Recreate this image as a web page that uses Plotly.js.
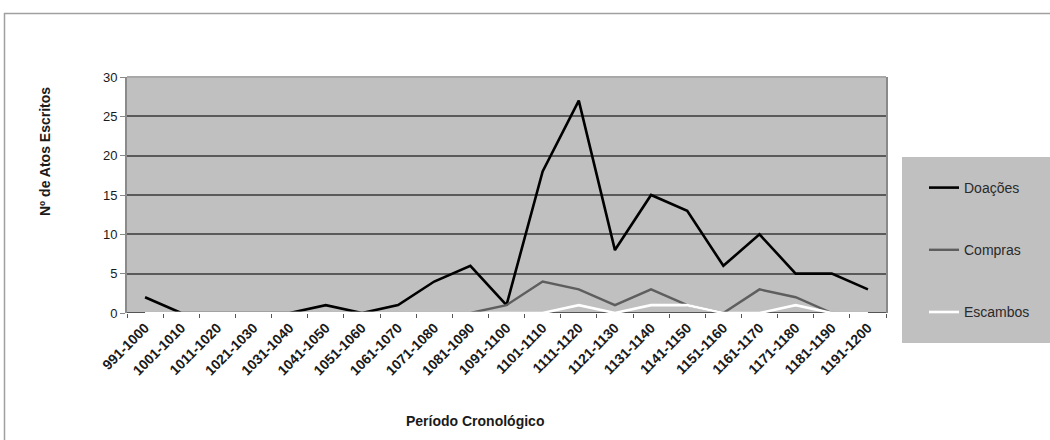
<!DOCTYPE html>
<html>
<head>
<meta charset="utf-8">
<script src="https://cdn.plot.ly/plotly-3.0.1.min.js"></script>
<style>html,body{margin:0;padding:0;background:#fff;}#chart{width:1050px;height:440px;}</style>
</head>
<body>
<div id="chart"></div>
<script>
const periods = ["991-1000","1001-1010","1011-1020","1021-1030","1031-1040","1041-1050","1051-1060","1061-1070","1071-1080","1081-1090","1091-1100","1101-1110","1111-1120","1121-1130","1131-1140","1141-1150","1151-1160","1161-1170","1171-1180","1181-1190","1191-1200"];
const doacoes  = [2,0,0,0,0,1,0,1,4,6,1,18,27,8,15,13,6,10,5,5,3];
const compras  = [0,0,0,0,0,0,0,0,0,0,1,4,3,1,3,1,0,3,2,0,0];
const escambos = [0,0,0,0,0,0,0,0,0,0,0,0,1,0,1,1,0,0,1,0,0];
const yTicks = [0,5,10,15,20,25,30];

const L = 127, R = 886, T = 77, B = 313, W = 1050, H = 440;
const px = p => (p - L) / (R - L);
const py = p => (B - p) / (B - T);

const font = "Liberation Sans, Arial, sans-serif";

const traces = [
  {name:"Doações", x:periods, y:doacoes, type:"scatter", mode:"lines", line:{color:"#000000", width:2.6}, legendgroup:"a"},
  {name:"Compras", x:periods, y:compras, type:"scatter", mode:"lines", line:{color:"#5e5e5e", width:2.4}, legendgroup:"b"},
  {name:"Escambos", x:periods, y:escambos, type:"scatter", mode:"lines", line:{color:"#ffffff", width:2.6}, legendgroup:"c"}
];

const layout = {
  width: W, height: H,
  margin: {l: L, r: W - R, t: T, b: H - B, pad: 0},
  paper_bgcolor: "#ffffff",
  plot_bgcolor: "#c0c0c0",
  font: {family: font, size: 13, color: "#1a1a1a"},
  showlegend: true,
  legend: {
    x: px(924), y: py(172), xanchor: "left", yanchor: "top",
    bgcolor: "rgba(0,0,0,0)", borderwidth: 0,
    font: {family: font, size: 14, color: "#2a2a2a"},
    tracegroupgap: 41, itemwidth: 30
  },
  xaxis: {
    type: "category", categoryorder: "array", categoryarray: periods,
    range: [-0.5, periods.length - 0.5],
    tickangle: -45, tickson: "boundaries", ticks: "outside", ticklen: 4, tickcolor: "#555",
    ticklabelstandoff: 3,
    showgrid: false, zeroline: false,
    showline: false,
    layer: "below traces",
    tickfont: {family: font, size: 14, color: "#1a1a1a", weight: "bold"},
    fixedrange: true
  },
  yaxis: {
    range: [0, 30], tickvals: yTicks, ticktext: yTicks.map(String),
    ticks: "outside", ticklen: 5, tickcolor: "#888",
    showgrid: true, gridcolor: "#5a5a5a", gridwidth: 2,
    zeroline: false,
    showline: true, linecolor: "#8a8a8a", linewidth: 2, mirror: true,
    layer: "below traces",
    tickfont: {family: font, size: 13, color: "#1a1a1a"},
    fixedrange: true
  },
  shapes: [
    {type:"line", xref:"x", yref:"y", x0:-0.5, x1:periods.length - 0.5, y0:0, y1:0, line:{color:"#555", width:2}, layer:"between"},
    {type:"line", xref:"paper", yref:"paper", x0:0, x1:1, y0:1, y1:1, line:{color:"#a8a8a8", width:2}, layer:"above"},
    {type:"rect", xref:"paper", yref:"paper", x0:px(902), x1:px(1052), y0:py(157), y1:py(343), fillcolor:"#c0c0c0", line:{width:0}, layer:"below"},
    {type:"rect", xref:"paper", yref:"paper", x0:px(4.5), x1:px(1060), y0:py(13.5), y1:py(460), fillcolor:"rgba(0,0,0,0)", line:{color:"#a0a0a0", width:1.5}, layer:"below"}
  ],
  annotations: [
    {text:"<b>Período Cronológico</b>", xref:"paper", yref:"paper", x:px(475), y:py(421), xanchor:"center", yanchor:"middle", showarrow:false, font:{family:font, size:14, color:"#1a1a1a"}},
    {text:"<b>Nº de Atos Escritos</b>", xref:"paper", yref:"paper", x:px(45), y:py(152), xanchor:"center", yanchor:"middle", textangle:-90, showarrow:false, font:{family:font, size:14, color:"#1a1a1a"}}
  ]
};

Plotly.newPlot("chart", traces, layout, {displayModeBar:false, staticPlot:true});
</script>
</body>
</html>
